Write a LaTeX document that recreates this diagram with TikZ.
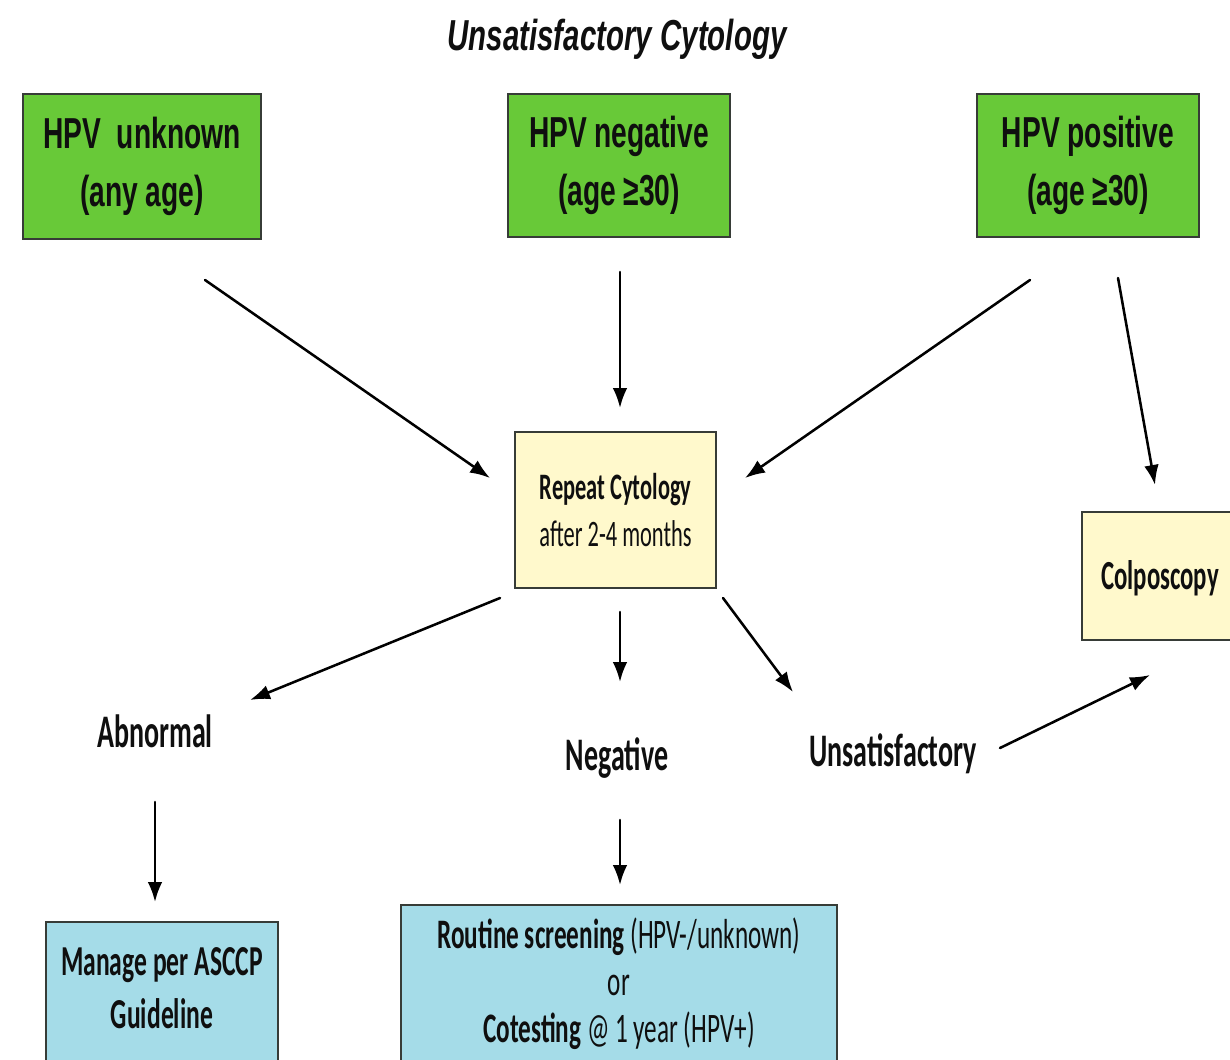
\documentclass[tikz,border=0pt]{standalone}
\usepackage{fontspec}
\setmainfont{Liberation Sans}
\newfontfamily\arlfont[FakeStretch=0.65]{Liberation Sans}
\newfontfamily\ttlfont[FakeStretch=0.68]{Liberation Sans}
\newfontfamily\calfont[FakeStretch=0.6]{Carlito}
\usetikzlibrary{arrows.meta}
\definecolor{boxgreen}{RGB}{104,201,56}
\definecolor{boxyellow}{RGB}{255,249,204}
\definecolor{boxblue}{RGB}{165,220,232}
\definecolor{boxborder}{RGB}{55,60,55}
\definecolor{txt}{RGB}{15,15,15}
\tikzset{
  box/.style={draw=boxborder, line width=1.5pt, inner sep=0pt, align=center, text=txt},
  greenbox/.style={box, fill=boxgreen, font=\arlfont\bfseries\fontsize{32.5}{44}\selectfont},
  yellowbox/.style={box, fill=boxyellow},
  bluebox/.style={box, fill=boxblue},
  lbl/.style={text=txt, inner sep=0pt, anchor=base, font=\calfont\bfseries\fontsize{35}{42}\selectfont},
  arr/.style={line width=1.9pt, line cap=round, -{Latex[length=15pt,width=11pt]}},
}
\begin{document}
\begin{tikzpicture}[x=0.75pt,y=-0.75pt]
\useasboundingbox (0,0) rectangle (1230,1059);
\clip (0,0) rectangle (1230,1059);
\fill[white] (0,0) rectangle (1230,1059);

% title
\node[anchor=base, inner sep=0pt, text=txt, font=\ttlfont\bfseries\itshape\fontsize{32.5}{39}\selectfont] (title) at (617,51) {Unsatisfactory Cytology};

% top boxes
\node[greenbox, minimum width=178.5pt, minimum height=108.75pt] (unk) at (142,166.5) {HPV\ \ unknown\\(any age)};
\node[greenbox, minimum width=166.5pt, minimum height=107.25pt] (neg) at (619,165.5) {HPV negative\\(age ≥30)};
\node[greenbox, minimum width=166.5pt, minimum height=107.25pt] (pos) at (1088,165.5) {HPV positive\\(age ≥30)};

% repeat cytology
\node[yellowbox, minimum width=150.75pt, minimum height=117pt, font=\calfont\fontsize{28}{35}\selectfont] (rep) at (615.5,510) {\textbf{Repeat Cytology}\\after 2-4 months};

% colposcopy
\node[yellowbox, minimum width=118.5pt, minimum height=96pt] (colpo) at (1161,576) {};
\node[text=txt, inner sep=0pt, font=\calfont\bfseries\fontsize{31}{36}\selectfont] (colpoT) at (1160,578) {Colposcopy};

% labels
\node[lbl] (abn) at (155,747) {Abnormal};
\node[lbl] (negl) at (617,770) {Negative};
\node[lbl] (uns) at (893,766) {Unsatisfactory};

% bottom boxes
\node[bluebox, minimum width=174pt, minimum height=126pt] (man) at (162,1006) {};
\node[text=txt, inner sep=0pt, align=center, font=\calfont\bfseries\fontsize{32}{40}\selectfont] (manT) at (162,988) {Manage per ASCCP\\Guideline};
\node[bluebox, minimum width=327pt, minimum height=138.75pt] (rout) at (619,997.5) {};
\node[text=txt, inner sep=0pt, align=center, font=\calfont\fontsize{31.5}{35.25}\selectfont] (routT) at (619,984) {\textbf{Routine screening} (HPV-/unknown)\\or\\\textbf{Cotesting} @ 1 year (HPV+)};

% arrow end points
\coordinate (a1s) at (205,280);  \coordinate (a1e) at (490,478);
\coordinate (a2s) at (620,272);  \coordinate (a2e) at (620,408);
\coordinate (a3s) at (1030,280); \coordinate (a3e) at (745,478);
\coordinate (a4s) at (1118,278); \coordinate (a4e) at (1155,485);
\coordinate (a5s) at (500,598);  \coordinate (a5e) at (250,700);
\coordinate (a6s) at (620,612);  \coordinate (a6e) at (620,682);
\coordinate (a7s) at (723,598);  \coordinate (a7e) at (793,692);
\coordinate (a8s) at (1000,748); \coordinate (a8e) at (1150,675);
\coordinate (a9s) at (155,802);  \coordinate (a9e) at (155,902);
\coordinate (a10s) at (620,820); \coordinate (a10e) at (620,885);

\draw[arr] (a1s) -- (a1e);
\draw[arr] (a2s) -- (a2e);
\draw[arr] (a3s) -- (a3e);
\draw[arr] (a4s) -- (a4e);
\draw[arr] (a5s) -- (a5e);
\draw[arr] (a6s) -- (a6e);
\draw[arr] (a7s) -- (a7e);
\draw[arr] (a8s) -- (a8e);
\draw[arr] (a9s) -- (a9e);
\draw[arr] (a10s) -- (a10e);
\end{tikzpicture}
\end{document}
